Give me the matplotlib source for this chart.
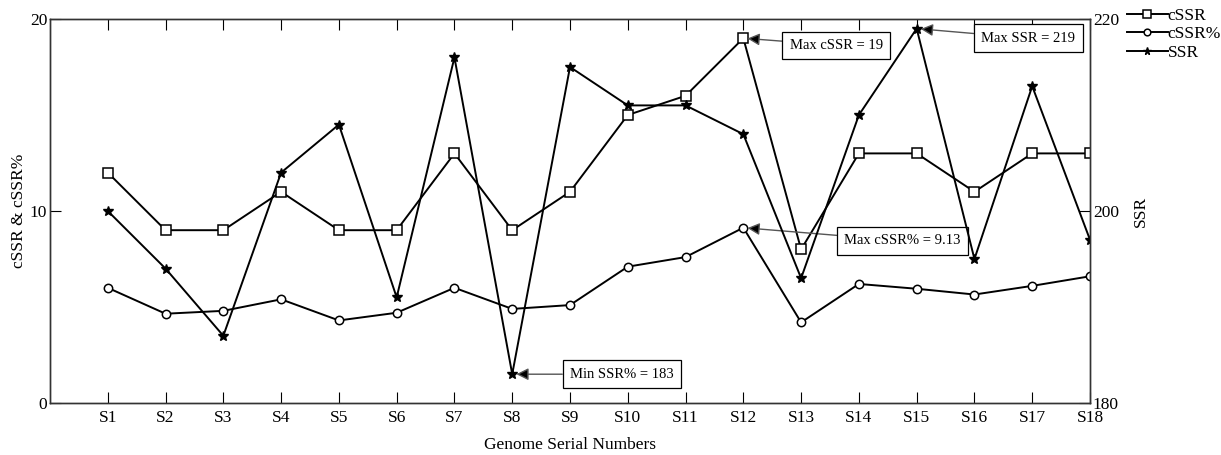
import matplotlib
matplotlib.use("Agg")
import matplotlib.pyplot as plt

labels = [f"S{i}" for i in range(1, 19)]
cssr = [12, 9, 9, 11, 9, 9, 13, 9, 11, 15, 16, 19, 8, 13, 13, 11, 13, 13]
cssr_pct = [6.0, 4.65, 4.8, 5.4, 4.3, 4.7, 6.0, 4.9, 5.1, 7.1, 7.6, 9.13, 4.2, 6.2, 5.95, 5.65, 6.1, 6.6]
ssr = [200, 194, 187, 204, 209, 191, 216, 183, 215, 211, 211, 208, 193, 210, 219, 195, 213, 197]

plt.rcParams['font.family'] = ['Liberation Serif', 'DejaVu Serif']
fs = 12.5

fig = plt.figure(figsize=(12.21, 4.55), dpi=100)
ax = fig.add_axes([50/1221, 52/455, 1040/1221, 384/455])
ax2 = ax.twinx()
x = list(range(1, 19))

l1, = ax.plot(x, cssr, color='black', lw=1.4, marker='s', ms=7, mfc='white', mec='black', mew=1.1)
l2, = ax.plot(x, cssr_pct, color='black', lw=1.4, marker='o', ms=6, mfc='white', mec='black', mew=1.1)
l3, = ax2.plot(x, ssr, color='black', lw=1.4, marker='*', ms=7, mfc='black', mec='black')

ax.set_xlim(0, 18)
ax.set_ylim(0, 20)
ax2.set_ylim(180, 220)
ax.set_xticks(x)
ax.set_xticklabels(labels, fontsize=fs)
ax.set_yticks([0, 10, 20])
ax.set_yticklabels(['0', '10', '20'], fontsize=fs)
ax2.set_yticks([180, 200, 220])
ax2.set_yticklabels(['180', '200', '220'], fontsize=fs)
ax.tick_params(axis='x', direction='in', top=True, length=8, pad=5)
ax.tick_params(axis='y', direction='in', length=8, pad=2)
ax2.tick_params(axis='y', direction='in', length=8, pad=2)
for a in (ax, ax2):
    for s in a.spines.values():
        s.set_linewidth(1.0)
        s.set_color('#333333')

ax.set_xlabel('Genome Serial Numbers', fontsize=fs, labelpad=8)
ax.set_ylabel('cSSR & cSSR%', fontsize=fs, labelpad=2)
ax2.set_ylabel('SSR', fontsize=fs, labelpad=10)

bbox = dict(boxstyle='square,pad=0.5', fc='white', ec='black', lw=0.9)
aprops = dict(arrowstyle='-|>', color='#555555', lw=1.0, mutation_scale=18,
              shrinkA=0, shrinkB=3)

def annot(a, text, xy, xytext):
    ann = a.annotate(text, xy=xy, xytext=xytext, textcoords='data', fontsize=10.5,
                     ha='left', va='center', bbox=bbox, arrowprops=aprops)
    ann.arrow_patch.set_facecolor('black')

annot(ax, 'Max cSSR = 19', (12, 19), (12.8, 18.63))
annot(ax2, 'Max SSR = 219', (15, 219), (16.12, 218.0))
annot(ax, 'Max cSSR% = 9.13', (12, 9.13), (13.75, 8.45))
annot(ax, 'Min SSR% = 183', (8, 1.5), (9.0, 1.5))

leg = fig.legend([l1, l2, l3], ['cSSR', 'cSSR%', 'SSR'], loc='upper left',
                 bbox_to_anchor=(1127/1221, 1 - 8/455), frameon=False, fontsize=fs,
                 handlelength=2.35, handletextpad=0.0, labelspacing=0.12, borderpad=0.0,
                 borderaxespad=0.0, markerscale=0.8)

fig.savefig('out.png', dpi=100)
